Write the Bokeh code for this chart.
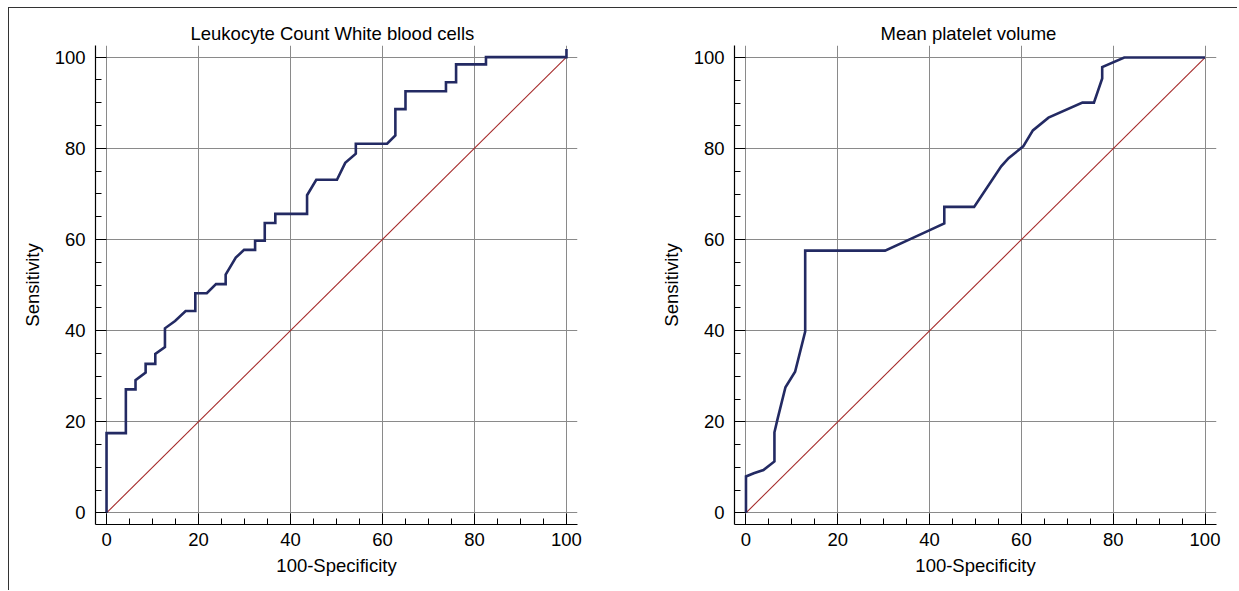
from bokeh.plotting import figure
from bokeh.layouts import row
from bokeh.models import Range1d, SingleIntervalTicker
from bokeh.embed import file_html
from bokeh.resources import INLINE

# ---- data ----
left_title = "Leukocyte Count White blood cells"
left_fpr = [0, 0, 4.2, 4.2, 6.3, 6.3, 8.5, 8.5, 10.6, 10.6, 12.7, 12.7, 14.9, 17.2, 19.3, 19.3,
            21.8, 23.8, 25.9, 25.9, 28.1, 29.9, 32.3, 32.3, 34.4, 34.4, 36.7, 36.7, 43.6, 43.6,
            45.6, 50.1, 51.9, 54.2, 54.2, 61.0, 62.8, 62.8, 65.0, 65.0, 73.8, 73.8, 76.0, 76.0,
            82.5, 82.5, 100, 100]
left_tpr = [0, 17.5, 17.5, 27.1, 27.1, 29.1, 30.8, 32.7, 32.7, 34.9, 36.4, 40.5, 42.1, 44.3, 44.3, 48.2,
            48.2, 50.2, 50.2, 52.3, 56.0, 57.7, 57.7, 59.7, 59.7, 63.6, 63.6, 65.6, 65.6, 69.7,
            73.1, 73.1, 76.8, 78.8, 81.0, 81.0, 82.8, 88.6, 88.6, 92.5, 92.5, 94.5, 94.5, 98.4,
            98.4, 100, 100, 101.8]

right_title = "Mean platelet volume"
right_fpr = [0, 0, 1.7, 3.8, 6.2, 6.2, 6.9, 8.6, 10.7, 12.9, 12.9, 30.3, 39.8, 43.2, 43.2, 49.7,
             55.6, 57.2, 60.4, 62.5, 65.9, 73.3, 75.8, 77.6, 77.6, 82.4, 100]
right_tpr = [0, 8.0, 8.7, 9.4, 11.3, 17.7, 20.7, 27.6, 31.0, 39.8, 57.6, 57.6, 62.0, 63.6, 67.2, 67.2,
             76.1, 77.9, 80.5, 84.0, 86.8, 90.1, 90.1, 95.4, 97.9, 100, 100]

diag = [0, 100]
x_label = "100-Specificity"
y_label = "Sensitivity"

FONT = "Liberation Sans"
FS = "18.5px"
CURVE = "#232a63"
DIAG = "#a52a2a"
GRID = "#8a8a8a"


def make_panel(title, fx, fy, xr, yr, width, height, bl, br, bt, bb, toff):
    p = figure(width=width, height=height, x_range=Range1d(*xr), y_range=Range1d(*yr),
               output_backend="svg", toolbar_location=None, title=title,
               min_border_left=bl, min_border_right=br, min_border_top=bt, min_border_bottom=bb)
    p.outline_line_color = None
    p.background_fill_color = "white"
    p.border_fill_color = "white"
    p.title.text_font = FONT
    p.title.text_font_size = FS
    p.title.text_font_style = "normal"
    p.title.text_color = "#000000"
    p.title.align = "left"
    p.title.standoff = 4
    p.title.offset = toff

    for ax in (p.xaxis[0], p.yaxis[0]):
        ax.ticker = SingleIntervalTicker(interval=20, num_minor_ticks=4)
        ax.major_label_text_font = FONT
        ax.major_label_text_font_size = FS
        ax.major_label_text_color = "#000000"
        ax.axis_label_text_font = FONT
        ax.axis_label_text_font_size = FS
        ax.axis_label_text_font_style = "normal"
        ax.axis_label_text_color = "#000000"
        ax.axis_line_color = "#000000"
        ax.axis_line_width = 1.2
        ax.major_tick_line_color = "#000000"
        ax.minor_tick_line_color = "#000000"
        ax.major_tick_in = 11
        ax.major_tick_out = 0
        ax.minor_tick_in = 6
        ax.minor_tick_out = 0
    p.xaxis.axis_label = x_label
    p.yaxis.axis_label = y_label
    p.xaxis.major_label_standoff = 8
    p.yaxis.major_label_standoff = 10
    p.xaxis.axis_label_standoff = 6
    p.yaxis.axis_label_standoff = 9

    p.grid.grid_line_color = GRID
    p.grid.grid_line_width = 1

    p.line(diag, diag, line_color=DIAG, line_width=1.1)
    p.line(fx, fy, line_color=CURVE, line_width=2.6, line_join="miter")
    return p


p1 = make_panel(left_title, left_fpr, left_tpr, (-2.4, 102.4), (-2.55, 102.55),
                620, 582, 86, 52, 37, 64, 95)
p2 = make_panel(right_title, right_fpr, right_tpr, (-2.5, 102.5), (-2.55, 102.65),
                608, 582, 105, 21, 35, 66, 146)

p = row(p1, p2, styles={"border-left": "1px solid #333333", "border-top": "1px solid #333333",
                        "margin-left": "8px", "margin-top": "7px"})

open("out.html", "w").write(file_html(p, INLINE))
